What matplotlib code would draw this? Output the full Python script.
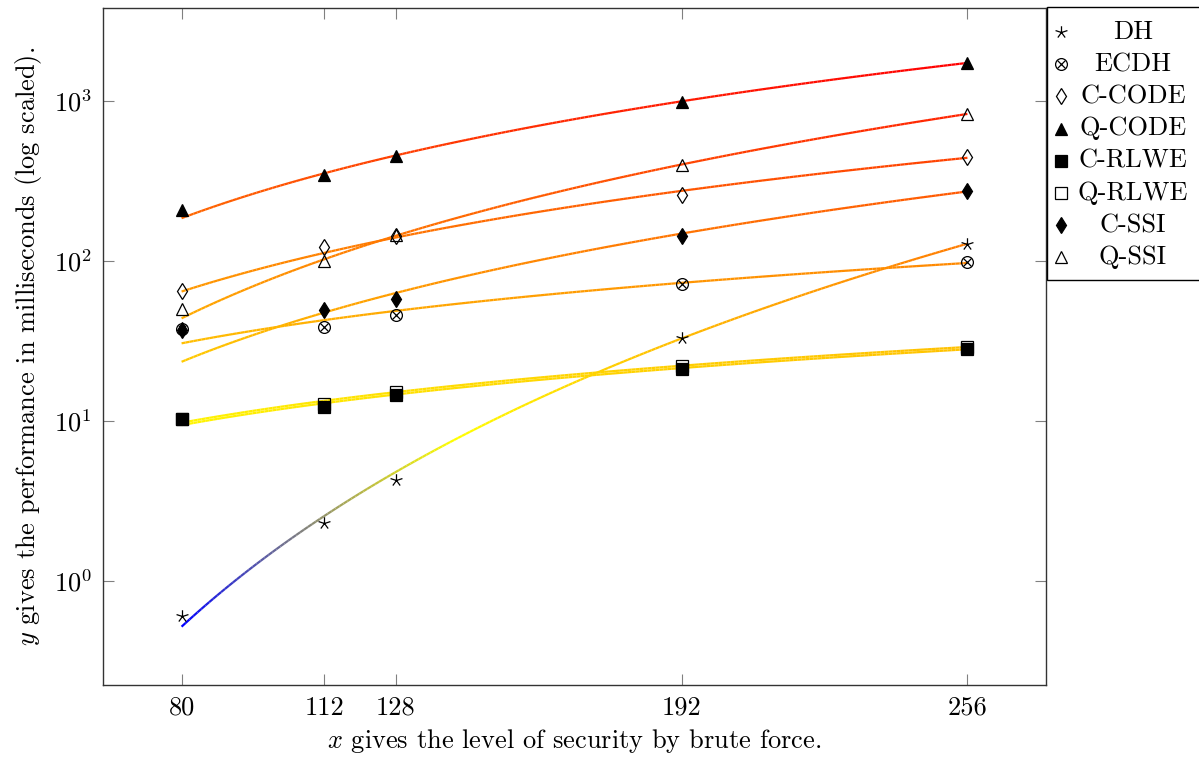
import numpy as np
import matplotlib
matplotlib.use("Agg")
import matplotlib.pyplot as plt
from matplotlib.path import Path
from matplotlib.collections import LineCollection
from matplotlib.colors import LinearSegmentedColormap, Normalize
from matplotlib.lines import Line2D
from matplotlib.patches import Rectangle
from matplotlib.ticker import FixedLocator, NullLocator


plt.rcParams['font.family'] = 'cmr10'
plt.rcParams['mathtext.fontset'] = 'cm'
plt.rcParams['axes.unicode_minus'] = False
plt.rcParams['axes.formatter.use_mathtext'] = True

# security levels (bits)
levels = [80, 112, 128, 192, 256]

# timings in ms
dh = [0.6, 2.3, 4.3, 33, 128]
ecdh = [37.6, 38.7, 46, 72, 98.6]
c_code = [65, 122, 143, 258, 447]
q_code = [208, 345, 450, 990, 1728]
c_rlwe = [10.3, 12.2, 14.6, 21.1, 28.3]
q_rlwe = [10.3, 12.8, 15.2, 22.0, 29.1]
c_ssi = [37, 49.4, 57.9, 143, 274]
q_ssi = [50, 100, 145, 398, 829]

names = ["DH", "ECDH", "C-CODE", "Q-CODE", "C-RLWE", "Q-RLWE", "C-SSI", "Q-SSI"]
series = [dh, ecdh, c_code, q_code, c_rlwe, q_rlwe, c_ssi, q_ssi]

FS = 19

# pgfplots-like star: five spokes
ang = np.deg2rad(90 + 72 * np.arange(5))
verts = []
codes = []
for a in ang:
    verts += [(0, 0), (np.cos(a), np.sin(a))]
    codes += [Path.MOVETO, Path.LINETO]
star = Path(verts, codes)

styles = {
    "DH": dict(marker=star, ms=9, mfc='none', mec='black', mew=0.9),
    "ECDH": dict(marker='o', ms=8.5, mfc='none', mec='black', mew=0.9),
    "C-CODE": dict(marker='d', ms=8.5, mfc='none', mec='black', mew=0.9),
    "Q-CODE": dict(marker='^', ms=8, mfc='black', mec='black', mew=0.9),
    "C-RLWE": dict(marker='s', ms=8.5, mfc='black', mec='black', mew=0.9),
    "Q-RLWE": dict(marker='s', ms=8.5, mfc='none', mec='black', mew=0.9),
    "C-SSI": dict(marker='d', ms=8.5, mfc='black', mec='black', mew=0.9),
    "Q-SSI": dict(marker='^', ms=8, mfc='none', mec='black', mew=0.9),
}

cmap = LinearSegmentedColormap.from_list(
    "hot_pgf", [(0, 0, 1), (1, 1, 0), (1, 0.5, 0), (1, 0, 0)])


def power_fit(x, y, x0=160.0):
    # least squares fit of y = c*(x/x0)^b (Gauss-Newton, start from log-log fit)
    x = np.asarray(x, float) / x0
    y = np.asarray(y, float)
    b, lc = np.polyfit(np.log(x), np.log(y), 1)
    c = np.exp(lc)
    for _ in range(60):
        f = c * x ** b
        J = np.column_stack([x ** b, f * np.log(x)])
        d = np.linalg.lstsq(J, y - f, rcond=None)[0]
        c += d[0]
        b += d[1]
    return lambda t: c * (np.asarray(t) / x0) ** b


W, H = 1199, 757
fig = plt.figure(figsize=(W / 100, H / 100), dpi=100)
ax = fig.add_axes([103 / W, 1 - 685 / H, (1046 - 103) / W, (685 - 8) / H])
ax.set_yscale('log')

xs = np.linspace(80, 256, 200)
fits = [power_fit(levels, ys)(xs) for ys in series]
allfit = np.log10(np.concatenate(fits))
norm = Normalize(allfit.min(), allfit.max())

for fy in fits:
    pts = np.column_stack([xs, fy])
    segs = np.stack([pts[:-1], pts[1:]], axis=1)
    mid = np.log10(np.sqrt(fy[:-1] * fy[1:]))
    lc = LineCollection(segs, colors=cmap(norm(mid)), linewidths=1.6,
                        zorder=2, capstyle='butt')
    ax.add_collection(lc)

for name, ys in zip(names, series):
    ax.plot(levels, ys, ls='none', zorder=3, **styles[name])
    if name == "ECDH":
        ax.plot(levels, ys, ls='none', marker='x', ms=5.5, mec='black',
                mew=0.9, zorder=3)

ax.set_xlim(62.4, 273.6)
ax.set_ylim(10 ** -0.65, 10 ** 3.58)
ax.set_xticks(levels)
ax.set_xticklabels([str(v) for v in levels])
ax.yaxis.set_major_locator(FixedLocator([1, 10, 100, 1000]))
ax.yaxis.set_minor_locator(NullLocator())
ax.tick_params(direction='in', length=8, width=0.8, color='#808080',
               top=True, right=True, labelsize=FS, pad=8)
for sp in ax.spines.values():
    sp.set_color('#333333')
    sp.set_linewidth(1.0)

ax.set_xlabel(r"$x$ gives the level of security by brute force.", fontsize=FS,
              labelpad=5)
ax.set_ylabel(r"$y$ gives the performance in milliseconds (log scaled).",
              fontsize=FS, labelpad=7)


# legend box outside on the right, drawn in pixel positions of the figure
def fx(px):
    return px / W


def fy_(py):
    return 1 - py / H


fig.add_artist(Rectangle((fx(1047), fy_(280)), fx(1250) - fx(1047),
                         fy_(7) - fy_(280), transform=fig.transFigure,
                         facecolor='white', edgecolor='black', lw=1.0,
                         clip_on=False))
row0, step = 32, 32.2
for i, name in enumerate(names):
    yy = fy_(row0 + i * step)
    fig.add_artist(Line2D([fx(1061)], [yy], transform=fig.transFigure,
                          ls='none', **styles[name]))
    if name == "ECDH":
        fig.add_artist(Line2D([fx(1061)], [yy], transform=fig.transFigure,
                              ls='none', marker='x', ms=5.5, mec='black', mew=0.9))
    fig.text(fx(1133), yy, name, ha='center', va='center', fontsize=FS)

fig.savefig("out.png", dpi=100)
